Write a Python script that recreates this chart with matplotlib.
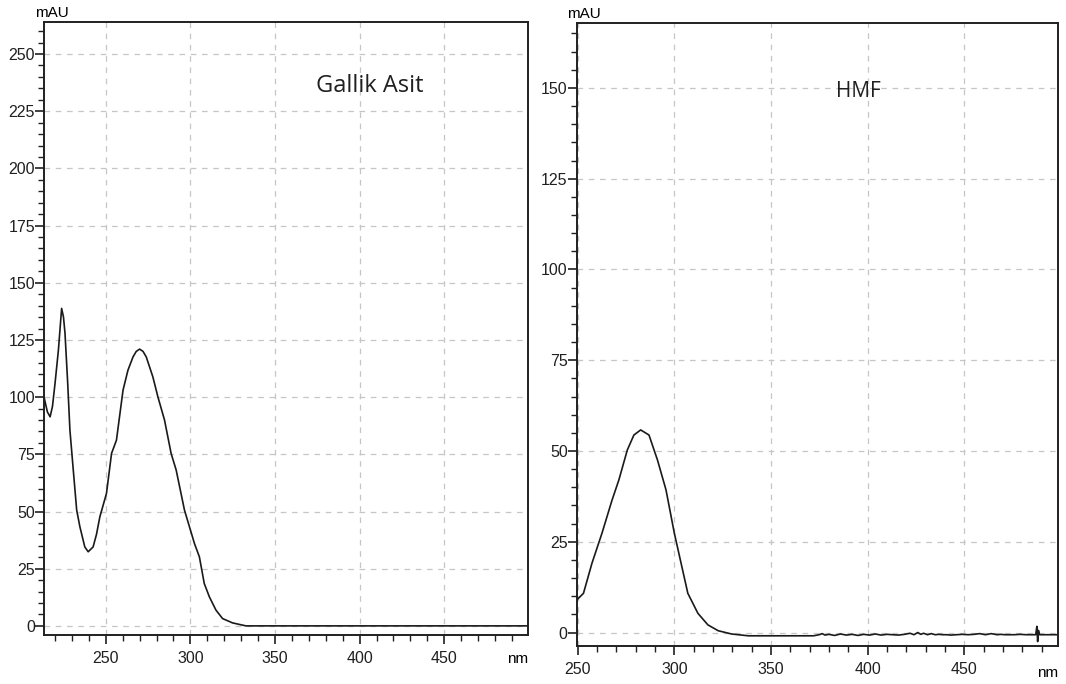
import matplotlib
matplotlib.use("Agg")
import matplotlib.pyplot as plt
from matplotlib.ticker import MultipleLocator

# Gallik Asit spectrum (nm, mAU)
gallik_nm = [213.5, 215.5, 217.1, 218.5, 220.0, 222.0, 223.9, 225.0, 225.9, 227.5, 228.8, 230.8,
             232.8, 234.7, 237.6, 239.6, 242.5, 244.5, 246.5, 250.4, 253.4, 256.3, 260.2, 263.1,
             266.1, 268.0, 270.0, 272.0, 273.9, 277.8, 280.8, 284.7, 288.6, 291.6, 296.5, 302.4,
             305.3, 308.2, 311.2, 315.1, 319.0, 324.9, 332.8, 340.0, 400.0, 499.5]
gallik_mau = [100.0, 93.5, 91.4, 96.0, 106.0, 120.6, 138.8, 135.0, 127.9, 106.0, 85.6, 68.0,
              50.6, 43.3, 34.5, 32.4, 34.5, 40.0, 47.7, 57.9, 75.4, 81.2, 103.1, 111.8,
              117.6, 120.0, 121.0, 120.0, 117.6, 108.9, 100.1, 90.0, 75.4, 68.1, 50.6, 36.0,
              30.2, 18.5, 12.7, 6.9, 3.2, 1.3, 0.0, 0.0, 0.0, 0.0]

# HMF spectrum (nm, mAU)
hmf_nm = [249.6, 253.0, 257.4, 262.6, 267.8, 271.3, 275.7, 279.1, 282.6, 286.9, 291.3, 295.7,
          300.0, 303.5, 307.0, 312.2, 317.4, 322.7, 329.6, 338.3, 345.0, 355.0, 365.0, 372.0,
          375.0, 376.5, 378.0, 380.0, 383.0, 386.0, 389.0, 392.0, 395.0, 398.0, 401.0, 404.0,
          407.0, 410.0, 413.0, 416.0, 419.0, 422.0, 424.0, 426.0, 427.5, 429.0, 431.0, 433.0,
          435.0, 437.0, 439.0, 441.0, 443.0, 446.0, 449.0, 452.0, 455.0, 458.0, 461.0, 464.0,
          467.0, 469.0, 471.0, 473.0, 476.0, 479.0, 482.0, 485.0, 487.0, 487.6, 488.0, 488.4,
          489.0, 490.0, 493.0, 496.0, 498.7]
hmf_mau = [9.0, 10.8, 19.1, 27.4, 36.5, 42.0, 50.3, 54.4, 55.8, 54.4, 47.5, 39.3,
           27.4, 19.1, 10.8, 5.3, 2.1, 0.5, -0.4, -0.9, -0.9, -0.9, -0.9, -0.9,
           -0.6, -0.3, -0.7, -0.5, -0.8, -0.4, -0.7, -0.5, -0.8, -0.5, -0.7, -0.4,
           -0.7, -0.5, -0.6, -0.7, -0.5, -0.2, -0.6, 0.0, -0.5, -0.2, -0.6, -0.3,
           -0.6, -0.5, -0.6, -0.6, -0.7, -0.6, -0.5, -0.6, -0.5, -0.3, -0.6, -0.3,
           -0.6, -0.5, -0.6, -0.6, -0.6, -0.5, -0.6, -0.6, -0.6, 1.7, -2.5, 0.6,
           -0.6, -0.6, -0.6, -0.6, -0.6]

plt.rcParams['font.family'] = ['Liberation Sans', 'DejaVu Sans']

fig = plt.figure(figsize=(10.66, 6.84), dpi=100)
ax1 = fig.add_axes([0.0413, 0.0716, 0.454, 0.8962])
ax2 = fig.add_axes([0.541, 0.0556, 0.4518, 0.9104])


def style_axis(ax, ymaj):
    ax.xaxis.set_major_locator(MultipleLocator(50))
    ax.xaxis.set_minor_locator(MultipleLocator(10))
    ax.yaxis.set_major_locator(MultipleLocator(ymaj))
    ax.yaxis.set_minor_locator(MultipleLocator(5))
    ax.grid(True, which='major', color='#c6c6c6', linestyle=(0, (4.5, 4.5)), linewidth=0.9)
    ax.set_axisbelow(True)
    for s in ax.spines.values():
        s.set_linewidth(1.4)
        s.set_color('#202020')
    ax.tick_params(which='major', length=6.5, width=1.2, labelsize=11.5, colors='#202020')
    ax.tick_params(which='minor', length=4, width=1.0, colors='#202020')
    ax.tick_params(axis='y', which='both', pad=0)
    ax.tick_params(axis='x', which='both', pad=5)


ax1.plot(gallik_nm, gallik_mau, color='#1a1a1a', linewidth=1.2)
ax1.set_xlim(213.5, 499.5)
ax1.set_ylim(-4, 264)
style_axis(ax1, 25)
ax1.text(-0.018, 1.004, 'mAU', transform=ax1.transAxes, fontsize=11, ha='left', va='bottom')
ax1.text(1.0, -0.028, 'nm', transform=ax1.transAxes, fontsize=11, ha='right', va='top')
ax1.text(406, 236, 'Gallik Asit', fontsize=17, family=['Open Sans', 'DejaVu Sans'],
         ha='center', va='center', color='#202020')

ax2.plot(hmf_nm, hmf_mau, color='#1a1a1a', linewidth=1.2)
ax2.set_xlim(249.5, 498.7)
ax2.set_ylim(-3.7, 167.8)
style_axis(ax2, 25)
ax2.text(-0.02, 1.004, 'mAU', transform=ax2.transAxes, fontsize=11, ha='left', va='bottom')
ax2.text(1.0, -0.032, 'nm', transform=ax2.transAxes, fontsize=11, ha='right', va='top')
ax2.text(395, 149, 'HMF', fontsize=15, family=['Open Sans', 'DejaVu Sans'],
         ha='center', va='center', color='#202020')

fig.savefig('out.png', dpi=100)
